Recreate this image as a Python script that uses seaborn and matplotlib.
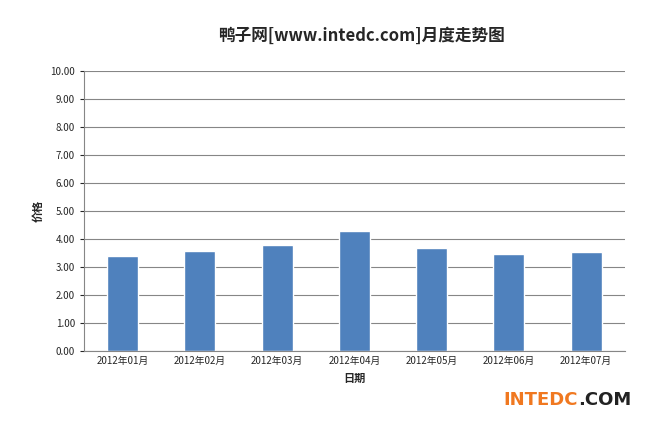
import matplotlib.pyplot as plt
import seaborn as sns

months = ['2012年01月', '2012年02月', '2012年03月', '2012年04月', '2012年05月', '2012年06月', '2012年07月']
prices = [3.39, 3.57, 3.79, 4.29, 3.68, 3.46, 3.54]
yticks = [0, 1, 2, 3, 4, 5, 6, 7, 8, 9, 10]

sns.set_style('white')
plt.rcParams['font.family'] = ['Noto Sans CJK SC', 'DejaVu Sans']

fig = plt.figure(figsize=(6.64, 4.21), dpi=100)
ax = fig.add_axes([0.1265, 0.166, 0.8145, 0.665])
sns.barplot(x=months, y=prices, ax=ax, color='#4F81BD', width=0.4, saturation=1)

ax.set_ylim(0, 10)
ax.set_yticks(yticks)
ax.set_yticklabels([f'{v:.2f}' for v in yticks], fontsize=7)
ax.tick_params(axis='x', labelsize=7, length=0)
ax.tick_params(axis='y', length=3, left=True)
ax.yaxis.grid(True, color='#868686', linewidth=0.8)
ax.set_axisbelow(True)
for s in ['top', 'right']:
    ax.spines[s].set_visible(False)
for s in ['left', 'bottom']:
    ax.spines[s].set_color('#868686')

ax.set_xlabel('日期', fontsize=8, fontweight='bold')
ax.set_ylabel('价格', fontsize=8, fontweight='bold')
fig.text(0.545, 0.915, '鸭子网[www.intedc.com]月度走势图', ha='center', va='center',
         fontsize=12, fontweight='bold')
fig.text(0.87, 0.05, 'INTEDC', ha='right', va='center', fontsize=13, fontweight='bold',
         color='#F07820', family=['DejaVu Sans'])
fig.text(0.87, 0.05, '.COM', ha='left', va='center', fontsize=13, fontweight='bold',
         color='#222222', family=['DejaVu Sans'])

fig.savefig('out.png', dpi=100)
